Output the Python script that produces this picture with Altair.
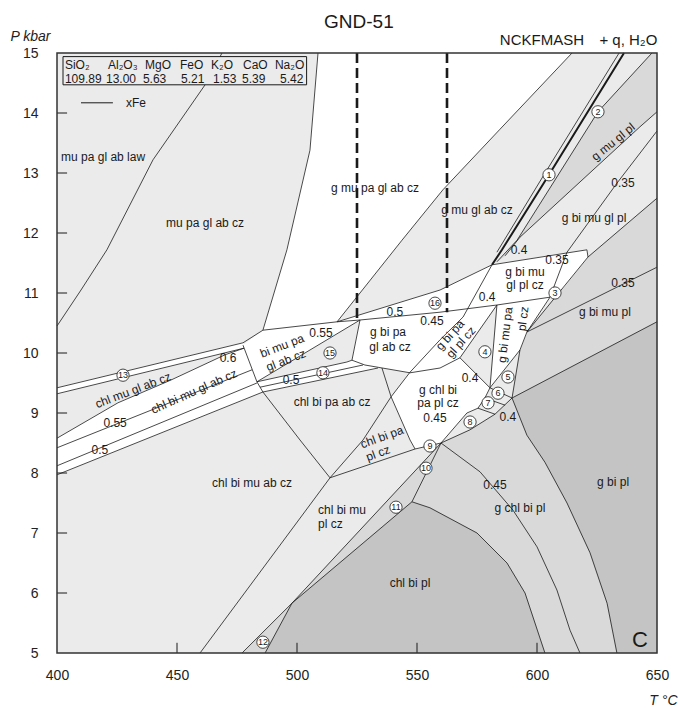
import altair as alt
import pandas as pd

FONT = "Liberation Sans"
INK = "#1a1a1a"
LIGHT = "#ebebeb"
MID = "#d9d9d9"
DARK = "#c4c4c4"
WHITE = "#ffffff"

# ---------------- axes ----------------
x_ticks = [400, 450, 500, 550, 600, 650]
y_ticks = [5, 6, 7, 8, 9, 10, 11, 12, 13, 14, 15]
x_inner_ticks = [450, 500, 550, 600]
y_inner_ticks = [6, 7, 8, 9, 10, 11, 12, 13, 14]

# ---------------- field boundaries (T degC, P kbar) ----------------
law = [(468.75, 15), (461.7, 14.47), (440, 13.22), (420.8, 11.72), (410, 11.05), (400, 10.45)]
c1 = [(508.75, 15), (505.4, 13.38), (495.8, 11.72), (485.8, 10.38)]
l1 = [(614.6, 15), (584.6, 13.73), (560.8, 12.72), (543.75, 11.88), (516.7, 10.52)]
one_thick = [(636.25, 15), (605, 12.97), (585.4, 11.72), (581.25, 11.47)]
one_thin = [(634.2, 15), (602.9, 12.97), (583.3, 11.68)]
two = [(647.9, 15), (625.4, 14.02), (591.7, 11.88), (583.3, 11.52)]
c_line = [(650, 14.02), (642.9, 13.77), (592.9, 11.93), (586.7, 11.62)]
iso035_up = [(650, 13.7), (633.3, 12.83), (612.5, 11.68), (605.4, 10.93), (595.8, 10.35)]
e_line = [(650, 12.58), (621.25, 11.6), (595.8, 10.35)]
iso035_lo = [(650, 11.43), (595.8, 10.35)]
dark_top = [(650, 10.52), (589.6, 9.25)]
b11 = [(595.8, 10.35), (592.9, 10.05), (589.6, 9.25)]
wtop = [(581.25, 11.47), (620.8, 11.72), (621.25, 11.6)]
band_top = [(516.7, 10.52), (559.6, 11.05), (581.25, 11.47)]
band_bot = [(526.25, 10.55), (559.6, 10.68), (583.3, 10.8), (605.4, 10.93)]
long_line = [(581.25, 11.47), (569.2, 10.6), (559.6, 10.22), (547.1, 9.68), (539.2, 9.27),
             (527.5, 8.55), (513.75, 7.92)]
w1_bot = [(485.8, 10.38), (516.7, 10.52), (526.25, 10.55)]
l13a = [(400, 9.42), (477.5, 10.17), (485.8, 10.38)]
l13b = [(400, 9.32), (477.9, 10.08)]
lc = [(400, 8.58), (425.4, 9.17), (447.5, 9.55), (470, 9.97), (477.9, 10.08)]
iso055 = [(400, 8.42), (481.25, 9.72)]
iso05 = [(400, 8.12), (483.3, 9.5)]
lf = [(400, 7.97), (485.8, 9.35)]
b23 = [(477.5, 10.13), (483.3, 9.52), (485.8, 9.35), (501.25, 8.55), (513.75, 7.92)]
b24 = [(483.3, 9.52), (526.25, 10.55)]
b25 = [(526.25, 10.55), (522.9, 9.88), (528.3, 9.8), (547.1, 9.67), (559.6, 9.75), (567.9, 9.92)]
s14_up = [(483.3, 9.52), (520.8, 9.85), (522.9, 9.88)]
s14_mid = [(484.6, 9.43), (527.5, 9.8)]
s14_lo = [(485.8, 9.35), (533.75, 9.75)]
gchl = [(535.4, 9.75), (539.2, 9.27), (547.1, 8.55), (549.2, 8.4)]
b28 = [(513.75, 7.92), (549.2, 8.4), (560, 8.5)]
b29 = [(513.75, 7.92), (459.6, 5.0)]
b30 = [(560, 8.5), (497.9, 5.83), (477.1, 5.0)]
b31 = [(560, 8.5), (547.9, 7.52)]
chlbipl_edge = [(486.7, 5), (497.9, 5.83), (547.9, 7.52), (555.4, 7.42), (575, 7.0),
                (587.5, 6.5), (595, 6.0), (603.3, 5.0)]
iso045 = [(560, 8.5), (576.25, 8.02), (590, 7.38), (600, 6.77), (608.3, 6.05), (613.75, 5.38),
          (617.9, 5.0)]
gbipl_edge = [(589.6, 9.25), (595.8, 8.63), (603.3, 8.18), (612.5, 7.5), (622.1, 6.67),
              (629.2, 5.83), (633.3, 5.0)]
f4_left = [(567.9, 9.92), (583.3, 10.8)]
f4_right = [(583.3, 10.8), (580.4, 9.42)]
f4_bot = [(567.9, 9.92), (580.4, 9.42)]
f5 = [(580.4, 9.42), (592.9, 10.05)]
sliver_up = [(580.4, 9.42), (578.3, 9.25), (575.4, 9.08), (570.8, 9.0), (560, 8.5)]
sliver_lo = [(560, 8.5), (572.1, 8.72), (582.5, 8.98), (589.6, 9.25)]
sep6 = [(580.4, 9.42), (589.6, 9.25)]
sep7 = [(578.3, 9.25), (586.7, 9.13)]
sep8 = [(575.4, 9.08), (582.5, 8.98)]
dash1 = [(525, 15), (525, 10.55)]
dash2 = [(562.5, 15), (562.5, 10.68)]

# ---------------- shaded fields ----------------
w1 = [(508.75, 15), (614.6, 15), (584.6, 13.73), (560.8, 12.72), (543.75, 11.88), (516.7, 10.52),
      (485.8, 10.38), (495.8, 11.72), (505.4, 13.38)]
w13 = [(400, 9.42), (477.5, 10.17), (477.9, 10.08), (400, 9.32)]
w_band = [(400, 8.58), (425.4, 9.17), (447.5, 9.55), (470, 9.97), (477.9, 10.08), (483.3, 9.52),
          (485.8, 9.35), (400, 7.97)]
w_bimupa = [(477.5, 10.13), (485.8, 10.38), (516.7, 10.52), (526.25, 10.55), (483.3, 9.52)]
w14 = [(483.3, 9.52), (520.8, 9.85), (522.9, 9.88), (528.3, 9.8), (533.75, 9.75), (485.8, 9.35)]
w4 = [(516.7, 10.52), (559.6, 11.05), (581.25, 11.47), (620.8, 11.72), (621.25, 11.6),
      (610.8, 11.08), (605.4, 10.93), (595.8, 10.35), (592.9, 10.05), (580.4, 9.42),
      (567.9, 9.92), (559.6, 9.75), (547.1, 9.67), (528.3, 9.8), (522.9, 9.88), (526.25, 10.55)]
w_center = [(547.1, 9.68), (559.6, 9.75), (567.9, 9.92), (580.4, 9.42), (578.3, 9.25),
            (575.4, 9.08), (570.8, 9.0), (560, 8.5), (549.2, 8.4), (547.1, 8.55), (539.2, 9.27)]
f4 = [(567.9, 9.92), (583.3, 10.8), (580.4, 9.42)]
g_mu_gl_pl = [(647.9, 15), (650, 15), (650, 14.02), (642.9, 13.77), (592.9, 11.93), (586.7, 11.62),
              (583.3, 11.52), (591.7, 11.88), (625.4, 14.02)]
g_bi_mu_pl = [(650, 12.58), (621.25, 11.6), (595.8, 10.35), (592.9, 10.05), (589.6, 9.25),
              (650, 10.52)]
g_chl_bi_pl = [(560, 8.5), (572.1, 8.72), (582.5, 8.98), (589.6, 9.25), (595.8, 8.63),
               (603.3, 8.18), (612.5, 7.5), (622.1, 6.67), (629.2, 5.83), (633.3, 5.0),
               (603.3, 5.0), (595, 6.0), (587.5, 6.5), (575, 7.0), (555.4, 7.42), (547.9, 7.52)]
f10 = [(560, 8.5), (547.9, 7.52), (497.9, 5.83)]
f12 = [(497.9, 5.83), (477.1, 5.0), (486.7, 5.0)]
g_bi_pl = [(589.6, 9.25), (650, 10.52), (650, 5), (633.3, 5), (629.2, 5.83), (622.1, 6.67),
           (612.5, 7.5), (603.3, 8.18), (595.8, 8.63)]
chl_bi_pl = [(486.7, 5), (497.9, 5.83), (547.9, 7.52), (555.4, 7.42), (575, 7.0), (587.5, 6.5),
             (595, 6.0), (603.3, 5.0)]

# ---------------- labels ----------------
labels_center = [
    ("mu pa gl ab cz", 461.7, 12.17, 0), ("g mu pa gl ab cz", 532.5, 12.75, 0),
    ("g mu gl ab cz", 575, 12.38, 0), ("g mu gl pl", 631.7, 13.52, 321),
    ("0.35", 635.8, 12.83, 0), ("g bi mu gl pl", 623.75, 12.25, 0),
    ("0.35", 608.3, 11.55, 0), ("g bi mu", 595, 11.35, 0), ("gl pl cz", 595, 11.13, 0),
    ("0.4", 592.5, 11.72, 0), ("0.35", 635.8, 11.17, 0), ("g bi mu pl", 628.3, 10.68, 0),
    ("0.4", 579.2, 10.93, 0), ("0.5", 540.8, 10.68, 0), ("0.45", 556.25, 10.53, 0),
    ("g bi pa", 537.9, 10.35, 0), ("gl ab cz", 538.75, 10.1, 0),
    ("g bi pa", 563.75, 10.3, 312), ("gl pl cz", 568.3, 10.18, 312),
    ("g bi mu pa", 586.7, 10.3, 277), ("pl cz", 594.2, 10.57, 277),
    ("0.4", 572.1, 9.58, 0), ("0.4", 587.9, 8.93, 0),
    ("g chl bi", 558.75, 9.38, 0), ("pa pl cz", 558.75, 9.17, 0), ("0.45", 557.5, 8.92, 0),
    ("bi mu pa", 493.75, 10.12, 339), ("gl ab cz", 495.4, 9.88, 339),
    ("0.55", 510, 10.33, 0), ("0.5", 497.5, 9.55, 0), ("chl bi pa ab cz", 514.6, 9.18, 0),
    ("0.6", 471.25, 9.92, 0), ("chl mu gl ab cz", 431.7, 9.38, 339),
    ("chl bi mu gl ab cz", 457.1, 9.36, 336), ("0.55", 424.2, 8.83, 0), ("0.5", 417.9, 8.38, 0),
    ("chl bi pa", 535.4, 8.6, 340), ("pl cz", 533.75, 8.33, 340),
    ("chl bi mu ab cz", 481.25, 7.83, 0), ("chl bi pl", 547.1, 6.17, 0),
    ("0.45", 582.5, 7.8, 0), ("g chl bi pl", 592.9, 7.42, 0), ("g bi pl", 631.7, 7.85, 0),
]
labels_left = [
    ("mu pa gl ab law", 401.7, 13.27), ("chl bi mu", 508.75, 7.38), ("pl cz", 508.75, 7.15),
]
circled = [
    (605, 12.97, "1"), (625.4, 14.02, "2"), (607.5, 11.0, "3"), (578.3, 10.02, "4"),
    (587.9, 9.6, "5"), (583.75, 9.33, "6"), (579.6, 9.17, "7"), (572.1, 8.85, "8"),
    (555.4, 8.45, "9"), (553.75, 8.08, "10"), (541.25, 7.43, "11"), (485.8, 5.18, "12"),
    (427.5, 9.63, "13"), (510.8, 9.67, "14"), (513.75, 10.0, "15"), (557.5, 10.83, "16"),
]

# composition box
comp_names = ["SiO₂", "Al₂O₃", "MgO", "FeO", "K₂O", "CaO", "Na₂O"]
comp_values = ["109.89", "13.00", "5.63", "5.21", "1.53", "5.39", "5.42"]
comp_name_T = [403.3, 421.25, 436.7, 451.25, 464.2, 477.5, 490.8]
comp_value_T = [403.3, 420.4, 435.8, 451.7, 465.0, 477.1, 492.9]
comp_box = (402.5, 504.0, 14.47, 14.94)
xfe_line = [(410, 14.17), (423.3, 14.17)]


# ---------------- helpers ----------------
def X():
    return alt.X("T:Q", scale=alt.Scale(domain=[400, 650], nice=False, zero=False),
                 axis=alt.Axis(values=x_ticks, format="d", title="T °C", grid=False, ticks=False,
                               domain=False, labelFont=FONT, labelFontSize=14, labelColor="#222",
                               labelPadding=15, labelFlush=False, labelOverlap=False,
                               titleFont=FONT, titleFontSize=14, titleFontStyle="italic",
                               titleFontWeight="normal", titleColor="#222", titleAngle=0,
                               titleX=620, titleY=47, titleAlign="right", titleBaseline="middle"))


def Y():
    return alt.Y("P:Q", scale=alt.Scale(domain=[5, 15], nice=False, zero=False),
                 axis=alt.Axis(values=y_ticks, format="d", title="P kbar", grid=False, ticks=False,
                               domain=False, labelFont=FONT, labelFontSize=14, labelColor="#222",
                               labelPadding=19, labelOverlap=False, labelFlush=False,
                               titleFont=FONT, titleFontSize=14, titleFontStyle="italic",
                               titleFontWeight="normal", titleColor="#222", titleAngle=0,
                               titleX=-47, titleY=-17, titleAlign="left", titleBaseline="middle"))


def lines_df(named, close=False):
    rows = []
    for name, pts in named.items():
        seq = list(pts) + ([pts[0]] if close else [])
        for i, (t, p) in enumerate(seq):
            rows.append({"id": name, "i": i, "T": t, "P": p})
    return pd.DataFrame(rows)


def poly_layer(named, color):
    return alt.Chart(lines_df(named, close=True)).mark_line(
        fill=color, stroke=color, strokeWidth=0.6, interpolate="linear"
    ).encode(x=X(), y=Y(), detail="id:N", order="i:Q")


def line_layer(named, width=0.8, dash=None):
    kw = dict(color=INK, strokeWidth=width, interpolate="linear")
    if dash:
        kw["strokeDash"] = dash
    return alt.Chart(lines_df(named)).mark_line(**kw).encode(
        x=X(), y=Y(), detail="id:N", order="i:Q")


thin = {
    "law": law, "c1": c1, "l1": l1, "one_thin": one_thin, "two": two, "c_line": c_line,
    "iso035_up": iso035_up, "e_line": e_line, "iso035_lo": iso035_lo, "dark_top": dark_top,
    "b11": b11, "wtop": wtop, "band_top": band_top, "band_bot": band_bot, "long": long_line,
    "w1_bot": w1_bot, "l13a": l13a, "l13b": l13b, "lc": lc, "iso055": iso055, "iso05": iso05,
    "lf": lf, "b23": b23, "b24": b24, "b25": b25, "s14_up": s14_up, "s14_mid": s14_mid,
    "s14_lo": s14_lo, "gchl": gchl, "b28": b28, "b29": b29, "b30": b30, "b31": b31,
    "chlbipl": chlbipl_edge, "iso045": iso045, "gbipl": gbipl_edge, "f4l": f4_left,
    "f4r": f4_right, "f4b": f4_bot, "f5": f5, "slu": sliver_up, "sll": sliver_lo,
    "sep6": sep6, "sep7": sep7, "sep8": sep8,
}

layers = [
    poly_layer({"a": g_mu_gl_pl, "b": g_bi_mu_pl, "c": g_chl_bi_pl, "d": f10, "e": f12}, MID),
    poly_layer({"a": g_bi_pl, "b": chl_bi_pl}, DARK),
    poly_layer({"a": w1, "b": w13, "c": w_band, "d": w_bimupa, "e": w14, "f": w4,
                "g": w_center}, WHITE),
    poly_layer({"a": f4}, LIGHT),
    line_layer(thin, 0.8),
    line_layer({"one": one_thick}, 2.0),
    line_layer({"d1": dash1, "d2": dash2}, 2.6, [10, 5]),
]

# inner ticks
tick_y = pd.DataFrame({"P": y_inner_ticks, "T": [400] * len(y_inner_ticks),
                       "T2": [404.2] * len(y_inner_ticks)})
tick_x = pd.DataFrame({"T": x_inner_ticks, "P": [5] * len(x_inner_ticks),
                       "P2": [5.17] * len(x_inner_ticks)})
layers.append(alt.Chart(tick_y).mark_rule(color=INK, strokeWidth=1).encode(
    x=X(), x2="T2:Q", y=Y()))
layers.append(alt.Chart(tick_x).mark_rule(color=INK, strokeWidth=1).encode(
    x=X(), y=Y(), y2="P2:Q"))

# composition box
box_df = pd.DataFrame([{"T": comp_box[0], "T2": comp_box[1], "P": comp_box[2], "P2": comp_box[3]}])
layers.append(alt.Chart(box_df).mark_rect(fill=LIGHT, stroke=INK, strokeWidth=1).encode(
    x=X(), x2="T2:Q", y=Y(), y2="P2:Q"))
comp_df = pd.DataFrame(
    [{"T": t, "P": 14.8, "text": s} for t, s in zip(comp_name_T, comp_names)] +
    [{"T": t, "P": 14.56, "text": s} for t, s in zip(comp_value_T, comp_values)])
layers.append(alt.Chart(comp_df).mark_text(align="left", baseline="middle", font=FONT,
                                           fontSize=12, color=INK).encode(
    x=X(), y=Y(), text="text:N"))
layers.append(line_layer({"xfe": xfe_line}, 1.0))
layers.append(alt.Chart(pd.DataFrame([{"T": 428.75, "P": 14.17, "text": "xFe"}])).mark_text(
    align="left", baseline="middle", font=FONT, fontSize=12, color=INK).encode(
    x=X(), y=Y(), text="text:N"))

# field labels
lab_df = pd.DataFrame([{"text": s, "T": t, "P": p, "angle": a} for s, t, p, a in labels_center])
layers.append(alt.Chart(lab_df).mark_text(align="center", baseline="middle", font=FONT,
                                          fontSize=12, color=INK).encode(
    x=X(), y=Y(), text="text:N", angle=alt.Angle("angle:Q", scale=None)))
labl_df = pd.DataFrame([{"text": s, "T": t, "P": p} for s, t, p in labels_left])
layers.append(alt.Chart(labl_df).mark_text(align="left", baseline="middle", font=FONT,
                                           fontSize=12, color=INK).encode(
    x=X(), y=Y(), text="text:N"))
layers.append(alt.Chart(pd.DataFrame([{"T": 642.9, "P": 5.22, "text": "C"}])).mark_text(
    align="center", baseline="middle", font=FONT, fontSize=22, color=INK).encode(
    x=X(), y=Y(), text="text:N"))

# circled field numbers
circ_df = pd.DataFrame([{"T": t, "P": p, "text": s} for t, p, s in circled])
layers.append(alt.Chart(circ_df).mark_circle(size=150, color=WHITE, opacity=1, stroke=INK,
                                             strokeWidth=0.8).encode(x=X(), y=Y()))
layers.append(alt.Chart(circ_df).mark_text(align="center", baseline="middle", font=FONT,
                                           fontSize=9, color=INK).encode(
    x=X(), y=Y(), text="text:N"))

# frame
frame_df = pd.DataFrame([{"T": 400, "T2": 650, "P": 5, "P2": 15}])
layers.append(alt.Chart(frame_df).mark_rect(fillOpacity=0, stroke="#333", strokeWidth=1.5).encode(
    x=X(), x2="T2:Q", y=Y(), y2="P2:Q"))

# titles
title_df = pd.DataFrame([{"T": 525.8, "P": 15.52, "text": "GND-51"}])
layers.append(alt.Chart(title_df).mark_text(align="center", baseline="middle", font=FONT,
                                            fontSize=19, color=INK).encode(
    x=X(), y=Y(), text="text:N"))
sys_df = pd.DataFrame([{"T": 619.6, "P": 15.22, "text": "NCKFMASH"}])
layers.append(alt.Chart(sys_df).mark_text(align="right", baseline="middle", font=FONT,
                                          fontSize=15, color=INK).encode(
    x=X(), y=Y(), text="text:N"))
sys2_df = pd.DataFrame([{"T": 626.0, "P": 15.22, "text": "+ q, H₂O"}])
layers.append(alt.Chart(sys2_df).mark_text(align="left", baseline="middle", font=FONT,
                                           fontSize=15, color=INK).encode(
    x=X(), y=Y(), text="text:N"))

chart = alt.layer(*layers).properties(
    width=600, height=600,
    padding={"left": 57, "top": 53, "right": 21, "bottom": 55},
    autosize=alt.AutoSizeParams(type="none"),
).configure_view(fill=LIGHT, strokeWidth=0)

chart.save("out.html", embed_options={"renderer": "svg", "actions": False})
